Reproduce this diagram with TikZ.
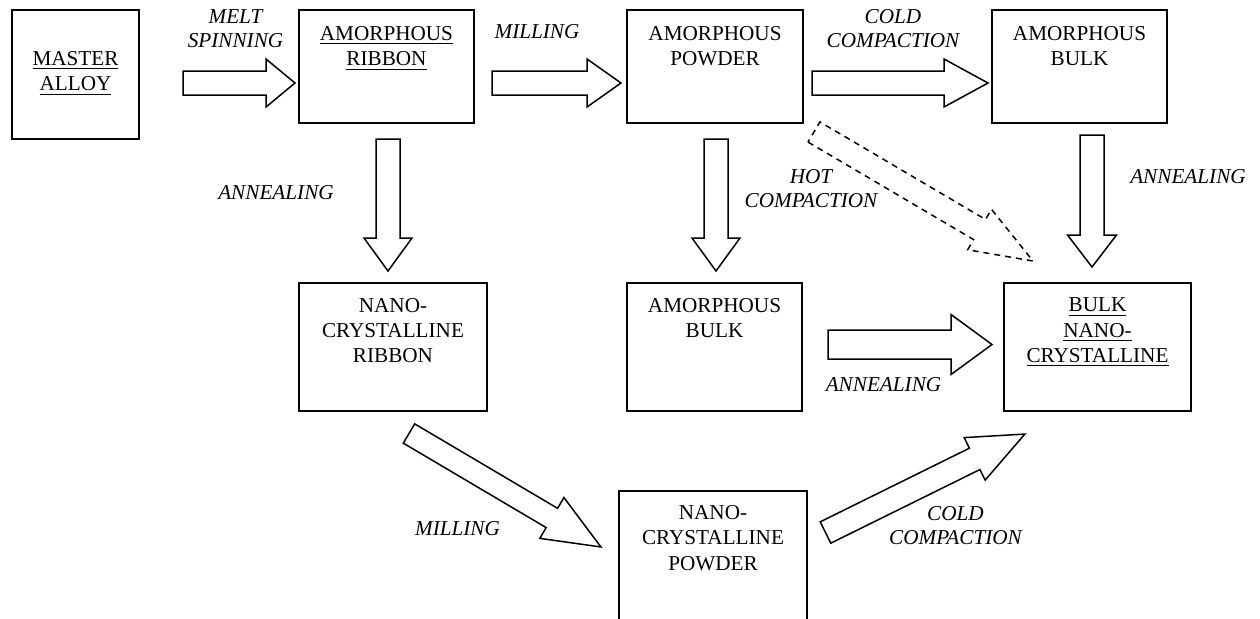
\documentclass[tikz,border=0pt]{standalone}
\usepackage{fontspec}
\setmainfont{Liberation Serif}
\usetikzlibrary{positioning,calc}

% block arrow from tail point to tip point
% [opts]{tail}{tip}{half shaft}{half head}{head length}
\newcommand\fatarrow[6][]{%
  \draw[fat,#1] let \p1=(#2), \p2=(#3),
    \n1={atan2(\y2-\y1,\x2-\x1)}, \n2={veclen(\x2-\x1,\y2-\y1)} in
    [shift={(\p1)}, rotate=\n1]
    (0pt,-#4) -- ({\n2-#6},-#4) -- ({\n2-#6},-#5) -- ({\n2+0pt},0pt)
    -- ({\n2-#6},#5) -- ({\n2-#6},#4) -- (0pt,#4) -- cycle;}

\begin{document}
\begin{tikzpicture}[x=0.5pt, y=-0.5pt,
  box/.style={draw, line width=0.9pt, inner sep=0pt},
  txt/.style={align=center, inner sep=0pt, font=\fontsize{10.6}{12.7}\selectfont},
  lbl/.style={align=center, inner sep=0pt, font=\fontsize{10.6}{12}\selectfont\itshape},
  fat/.style={draw, fill=white, line width=0.75pt, line join=miter}]
\useasboundingbox (0,0) rectangle (1260,618);
\clip (0,0) rectangle (1260,618);

% boxes
\node (mast) at (75.5,74.5) [box, minimum width=63.5pt, minimum height=64.5pt] {};
	\node (mastT) [txt, below=21pt of mast.north] {\underline{MASTER}\\\underline{ALLOY}};
\node (arib) at (386.5,66.5) [box, minimum width=87.5pt, minimum height=56.5pt] {};
	\node (aribT) [txt, below=8.5pt of arib.north] {\underline{AMORPHOUS}\\\underline{RIBBON}};
\node (apow) at (715,66.5) [box, minimum width=88pt, minimum height=56.5pt] {};
	\node (apowT) [txt, below=8.5pt of apow.north] {AMORPHOUS\\POWDER};
\node (abulk) at (1079.5,66.5) [box, minimum width=87.5pt, minimum height=56.5pt] {};
	\node (abulkT) [txt, below=8.5pt of abulk.north] {AMORPHOUS\\BULK};
\node (ncrib) at (393,347) [box, minimum width=94pt, minimum height=64pt] {};
	\node (ncribT) [txt, below=7.75pt of ncrib.north] {NANO-\\CRYSTALLINE\\RIBBON};
\node (abulk2) at (714.5,347) [box, minimum width=87.5pt, minimum height=64pt] {};
	\node (abulk2T) [txt, below=7.75pt of abulk2.north] {AMORPHOUS\\BULK};
\node (bnano) at (1097.5,347) [box, minimum width=93.5pt, minimum height=64pt] {};
	\node (bnanoT) [txt, below=7.75pt of bnano.north] {\underline{BULK}\\\underline{NANO-}\\\underline{CRYSTALLINE}};
\node (ncpow) at (713,565.5) [box, minimum width=94pt, minimum height=74.5pt] {};
	\node (ncpowT) [txt, below=7.5pt of ncpow.north] {NANO-\\CRYSTALLINE\\POWDER};

% arrow ends
\coordinate (meltS) at (183,83);	\coordinate (meltE) at (295,83);
\coordinate (mill1S) at (492,83);	\coordinate (mill1E) at (621,83);
\coordinate (cold1S) at (812,83);	\coordinate (cold1E) at (988,83);
\coordinate (ann1S) at (388,139);	\coordinate (ann1E) at (388,271);
\coordinate (hotS) at (716,139);	\coordinate (hotE) at (716,271);
\coordinate (ann3S) at (1092,135);	\coordinate (ann3E) at (1092,267);
\coordinate (ann2S) at (828,344.5);	\coordinate (ann2E) at (992,344.5);
\coordinate (hot2S) at (814,132);	\coordinate (hot2E) at (1033,261);
\coordinate (mill2S) at (409,433.5);	\coordinate (mill2E) at (601,547);
\coordinate (cold2S) at (825.5,532.5);	\coordinate (cold2E) at (1025,434);

\fatarrow{meltS}{meltE}{6pt}{12pt}{14.5pt}
\fatarrow{mill1S}{mill1E}{6pt}{12pt}{17pt}
\fatarrow{cold1S}{cold1E}{6pt}{12pt}{22pt}
\fatarrow{ann1S}{ann1E}{6pt}{12pt}{16.5pt}
\fatarrow{hotS}{hotE}{6pt}{12pt}{16.5pt}
\fatarrow{ann3S}{ann3E}{6pt}{12.25pt}{16pt}
\fatarrow{ann2S}{ann2E}{7.25pt}{15pt}{20.5pt}
\fatarrow[dash pattern=on 3pt off 2.5pt]{hot2S}{hot2E}{5.85pt}{11.75pt}{31pt}
\fatarrow{mill2S}{mill2E}{5.6pt}{11.85pt}{28.5pt}
\fatarrow{cold2S}{cold2E}{5.95pt}{11.85pt}{28pt}

% labels
\node (meltL) at (235.5,9) [lbl, anchor=north] {MELT\\SPINNING};
\node (mill1L) at (537,38) [lbl, anchor=base] {MILLING};
\node (cold1L) at (893,9) [lbl, anchor=north] {COLD\\COMPACTION};
\node (ann1L) at (276,199) [lbl, anchor=base] {ANNEALING};
\node (hotL) at (811,169) [lbl, anchor=north] {HOT\\COMPACTION};
\node (ann3L) at (1188,183) [lbl, anchor=base] {ANNEALING};
\node (ann2L) at (883.5,391) [lbl, anchor=base] {ANNEALING};
\node (mill2L) at (457.5,535) [lbl, anchor=base] {MILLING};
\node (cold2L) at (955.5,506) [lbl, anchor=north] {COLD\\COMPACTION};
\end{tikzpicture}
\end{document}
